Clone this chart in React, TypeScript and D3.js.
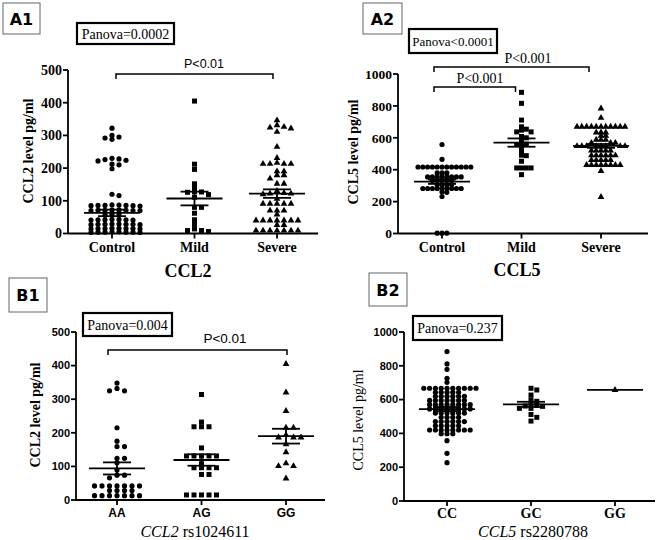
import React from "react";
import * as d3 from "d3";

// ---------------- DATA ----------------
const A1_CATEGORIES = ["Control", "Mild", "Severe"];
const A1_CONTROL = [322, 300, 295, 292, 288, 230, 228, 226, 224, 222, 212, 210, 198, 120, 116,
  88, 87, 86, 86, 85, 85, 84, 86,
  72, 71, 71, 70, 70, 72, 71, 70,
  58, 56, 57,
  43, 42, 42, 41, 43, 42, 41,
  28, 28, 27, 29, 28, 27, 28, 29,
  15, 15, 14, 16, 15, 14, 15, 16,
  4, 4, 3, 5, 4, 3, 4, 5];
const A1_MILD = [405, 212, 196, 152, 139, 128, 127, 126, 119, 111, 80, 80, 62, 42, 28, 14, 9, 9, 6];
const A1_SEVERE = [346, 331, 326, 324, 321, 311, 265, 231, 216, 213, 213, 213, 213, 190, 190, 178, 178, 168,
  152, 152, 130, 124, 122, 122, 120, 106, 91, 91, 91, 91, 91, 70, 70, 70, 58,
  40, 40, 40, 40, 40, 40, 40, 26, 26, 9, 9, 9, 9, 9, 9, 9];
const A1_MEANS = [63, 107, 122];
const A1_SEMS = [10, 21, 13];
const A1_TICKS = [0, 100, 200, 300, 400, 500];

const A2_CATEGORIES = ["Control", "Mild", "Severe"];
const A2_CONTROL = [558, 465,
  417, 417, 417, 417, 417, 417, 417, 417, 417, 417, 417, 417,
  380, 380, 380,
  355, 355, 355, 355, 355, 355, 355, 355,
  332, 332, 332, 332, 332,
  305, 305, 305, 305,
  282, 282, 282, 282, 282, 282, 282, 282, 282,
  260, 258, 232, 2, 2, 2];
const A2_MILD = [885, 816, 711, 669, 654, 648, 637, 637, 608, 600, 585, 562, 560, 558, 540, 516, 491, 488,
  453, 411, 411, 411, 411, 369];
const A2_SEVERE = [784, 725,
  669, 669, 669, 669, 669, 669, 669, 669, 669, 669, 669,
  633, 633, 633, 612, 612, 588, 588, 588, 568, 568, 568,
  548, 548, 548, 548, 548, 548, 548, 548,
  520, 520, 520, 520, 520,
  490, 490, 490, 490, 490, 490,
  460, 460, 460, 460, 460,
  430, 430, 430, 430, 430, 430, 430, 430,
  392, 229];
const A2_MEANS = [325, 570, 549];
const A2_SEMS = [14, 26, 12];
const A2_TICKS = [0, 200, 400, 600, 800, 1000];

const B1_CATEGORIES = ["AA", "AG", "GG"];
const B1_AA = [348, 332, 325, 325, 215, 175, 159, 159, 124, 124, 111, 89, 74, 74, 66,
  42, 42, 42, 42, 42, 42, 42, 28, 28, 28, 28, 13, 13, 13, 13, 13, 13, 13];
const B1_AG = [314, 232, 218, 218, 218, 155, 131, 131, 131, 131, 131, 108, 96, 96, 96, 96, 76, 76,
  15, 15, 15, 15, 15];
const B1_GG = [405, 320, 265, 215, 215, 193, 186, 186, 186, 166, 142, 109, 101, 101, 64];
const B1_MEANS = [94, 119, 190];
const B1_SEMS = [18, 17, 22];
const B1_TICKS = [0, 100, 200, 300, 400, 500];

const B2_CATEGORIES = ["CC", "GC", "GG"];
const B2_CC = [884, 811, 779, 726, 702,
  667, 667, 667, 667, 667, 667, 667, 667, 667, 667,
  643, 643, 643, 643, 643,
  620, 620, 620, 620, 620, 620,
  595, 595, 595, 595, 595, 595, 595,
  570, 570, 570, 570, 570, 570, 570, 570,
  545, 545, 545, 545, 545, 545, 545, 545,
  520, 520, 520, 520, 520, 520,
  495, 495, 495, 495,
  470, 470, 470, 470, 470, 470,
  445, 445, 445, 445, 445,
  420, 420, 420, 420, 420, 420, 420, 420,
  398, 398, 398, 357, 282, 227];
const B2_GC = [667, 657, 627, 598, 590, 570, 565, 562, 560, 548, 548, 512, 495, 473];
const B2_GG = [657];
const B2_MEANS = [544, 572, 657];
const B2_SEMS = [12, 15, 0];
const B2_TICKS = [0, 200, 400, 600, 800, 1000];

// ---------------- STYLE ----------------
const SERIF = "'Liberation Serif', 'Times New Roman', serif";
const SANS = "'Liberation Sans', Arial, sans-serif";
const LABEL = "'DejaVu Sans', Verdana, sans-serif";
const SHAPES = [d3.symbolCircle, d3.symbolSquare, d3.symbolTriangle];
const SHAPE_SIZE = [21, 25, 20];

type Swarm = { x: number; y: number }[];

function swarm(values: number[], y: (v: number) => number, cx: number, s: number, sy: number): Swarm {
  const pts = values.map((v) => y(v)).sort((a, b) => a - b);
  const placed: { off: number; y: number }[] = [];
  const h = s / 2;
  for (const py of pts) {
    for (let k = 0; k < 60; k++) {
      const off = k === 0 ? 0 : (k % 2 === 1 ? 1 : -1) * Math.ceil(k / 2) * h;
      const hit = placed.some((q) => Math.abs(q.y - py) < sy && Math.abs(q.off - off) < s - 0.01);
      if (!hit) {
        placed.push({ off, y: py });
        break;
      }
    }
  }
  return placed.map((p) => ({ x: cx + p.off, y: p.y }));
}

function Panel(props: any) {
  const c = props.cfg;
  const y = d3.scaleLinear().domain([0, c.ticks[c.ticks.length - 1]]).range([c.yBot, c.yTop]);
  const x = d3.scalePoint().domain(c.cats).range(c.catRange);
  const sw = 1.8;
  return (
    <g>
      <rect x={c.label.x} y={c.label.y} width={c.label.w} height={c.label.h} fill="#fff" stroke="#666" strokeWidth={1} />
      <text x={c.label.x + c.label.w / 2} y={c.label.y + c.label.h / 2 + 6} textAnchor="middle" fontFamily={LABEL} fontWeight="bold" fontSize={16}>{c.label.text}</text>
      <rect x={c.panova.x} y={c.panova.y} width={c.panova.w} height={c.panova.h} fill="#fff" stroke="#000" strokeWidth={2.2} />
      <text x={c.panova.x + c.panova.w / 2} y={c.panova.y + c.panova.h / 2 + 5} textAnchor="middle" fontFamily={SERIF} fontSize={c.panova.fs}>{c.panova.text}</text>
      {c.brackets.map((b: any, i: number) => {
        const x1 = (x(b.from) as number) + b.d1;
        const x2 = (x(b.to) as number) + b.d2;
        return (
          <g key={i}>
            <path d={`M${x1},${b.y + 5}V${b.y}H${x2}V${b.y + 5}`} fill="none" stroke="#000" strokeWidth={1.5} />
            <text x={b.tx} y={b.ty} textAnchor="middle" fontFamily={b.font} fontSize={b.fs}>{b.text}</text>
          </g>
        );
      })}
      <line x1={c.x0} x2={c.x0} y1={c.yTop} y2={c.yBot} stroke="#000" strokeWidth={sw} />
      <line x1={c.x0} x2={c.xEnd} y1={c.yBot} y2={c.yBot} stroke="#000" strokeWidth={sw} />
      {c.ticks.map((t: number) => (
        <g key={t}>
          <line x1={c.x0 - 5} x2={c.x0} y1={y(t)} y2={y(t)} stroke="#000" strokeWidth={sw} />
          <text x={c.x0 - 6} y={y(t) + c.tickFs * 0.35} textAnchor="end" fontFamily={c.tickFont} fontWeight="bold" fontSize={c.tickFs}>{t}</text>
        </g>
      ))}
      {c.cats.map((k: string) => (
        <g key={k}>
          <line x1={x(k)} x2={x(k)} y1={c.yBot} y2={c.yBot + 5} stroke="#000" strokeWidth={sw} />
          <text x={x(k)} y={c.catY} textAnchor="middle" fontFamily={c.catFont} fontWeight="bold" fontSize={c.catFs}>{k}</text>
        </g>
      ))}
      <text x={c.xTitle.x} y={c.xTitle.y} textAnchor="middle" fontFamily={SERIF} fontSize={c.xTitle.fs} fontWeight={c.xTitle.bold ? "bold" : "normal"}>
        {c.xTitle.parts.map((p: any, i: number) => (
          <tspan key={i} fontStyle={p.italic ? "italic" : "normal"}>{p.t}</tspan>
        ))}
      </text>
      <text transform={`translate(${c.yTitle.x},${c.yTitle.y}) rotate(-90)`} textAnchor="middle" fontFamily={SERIF} fontSize={c.yTitle.fs} fontWeight={c.yTitle.bold ? "bold" : "normal"} dy="0.35em">{c.yTitle.text}</text>
      {c.groups.map((vals: number[], gi: number) => {
        const pts = swarm(vals, y, x(c.cats[gi]) as number, c.spacing, c.rowH);
        const sym = d3.symbol().type(SHAPES[gi]).size(SHAPE_SIZE[gi])();
        return (
          <g key={gi}>
            {pts.map((p, i) => (
              <path key={i} d={sym as string} transform={`translate(${p.x},${p.y})`} fill="#000" />
            ))}
          </g>
        );
      })}
      {c.means.map((m: number, gi: number) => {
        const cx = x(c.cats[gi]) as number;
        const s = c.sems[gi];
        return (
          <g key={gi} stroke="#000" strokeWidth={sw}>
            <line x1={cx - 28} x2={cx + 28} y1={y(m)} y2={y(m)} />
            {s > 0 && (
              <g>
                <line x1={cx} x2={cx} y1={y(m - s)} y2={y(m + s)} />
                <line x1={cx - 14} x2={cx + 14} y1={y(m - s)} y2={y(m - s)} />
                <line x1={cx - 14} x2={cx + 14} y1={y(m + s)} y2={y(m + s)} />
              </g>
            )}
          </g>
        );
      })}
    </g>
  );
}

const PANELS = [
  {
    label: { text: "A1", x: 3, y: 3, w: 37, h: 31 },
    panova: { text: "Panova=0.0002", x: 77, y: 23, w: 97, h: 21, fs: 14 },
    brackets: [{ from: "Control", to: "Severe", d1: 4, d2: -4, y: 74, text: "P<0.01", tx: 204, ty: 68, font: SANS, fs: 12.5 }],
    x0: 68, xEnd: 318, yTop: 70, yBot: 233.5, ticks: A1_TICKS,
    cats: A1_CATEGORIES, catRange: [112, 277], groups: [A1_CONTROL, A1_MILD, A1_SEVERE],
    means: A1_MEANS, sems: A1_SEMS,
    tickFont: SERIF, tickFs: 14, catFont: SERIF, catFs: 14, catY: 252,
    xTitle: { parts: [{ t: "CCL2" }], x: 188, y: 277, fs: 18, bold: true },
    yTitle: { text: "CCL2 level pg/ml", x: 28, y: 151, fs: 14, bold: true },
    spacing: 7, rowH: 3.4,
  },
  {
    label: { text: "A2", x: 363, y: 3, w: 39, h: 31 },
    panova: { text: "Panova<0.0001", x: 409, y: 29, w: 88, h: 24, fs: 13 },
    brackets: [
      { from: "Control", to: "Mild", d1: -8, d2: -6, y: 87, text: "P<0.001", tx: 480, ty: 83, font: SERIF, fs: 14 },
      { from: "Control", to: "Severe", d1: -8, d2: -12, y: 67, text: "P<0.001", tx: 528, ty: 63, font: SERIF, fs: 14 },
    ],
    x0: 398, xEnd: 648, yTop: 74, yBot: 233.5, ticks: A2_TICKS,
    cats: A2_CATEGORIES, catRange: [442, 601], groups: [A2_CONTROL, A2_MILD, A2_SEVERE],
    means: A2_MEANS, sems: A2_SEMS,
    tickFont: SERIF, tickFs: 13.5, catFont: SERIF, catFs: 14, catY: 252,
    xTitle: { parts: [{ t: "CCL5" }], x: 517, y: 276, fs: 18, bold: true },
    yTitle: { text: "CCL5 level pg/ml", x: 353, y: 152, fs: 14, bold: true },
    spacing: 4.8, rowH: 3.2,
  },
  {
    label: { text: "B1", x: 9, y: 278, w: 38, h: 34 },
    panova: { text: "Panova=0.004", x: 83, y: 313, w: 89, h: 23, fs: 14 },
    brackets: [{ from: "AA", to: "GG", d1: -9, d2: 1, y: 350, text: "P<0.01", tx: 225, ty: 343, font: SANS, fs: 13.5 }],
    x0: 76, xEnd: 325, yTop: 332, yBot: 500, ticks: B1_TICKS,
    cats: B1_CATEGORIES, catRange: [117, 286], groups: [B1_AA, B1_AG, B1_GG],
    means: B1_MEANS, sems: B1_SEMS,
    tickFont: SANS, tickFs: 11, catFont: SANS, catFs: 12, catY: 517,
    xTitle: { parts: [{ t: "CCL2", italic: true }, { t: " rs1024611" }], x: 195, y: 537, fs: 16, bold: false },
    yTitle: { text: "CCL2 level pg/ml", x: 35, y: 415, fs: 14, bold: true },
    spacing: 7.5, rowH: 3.4,
  },
  {
    label: { text: "B2", x: 369, y: 273, w: 38, h: 33 },
    panova: { text: "Panova=0.237", x: 413, y: 316, w: 89, h: 24, fs: 14 },
    brackets: [],
    x0: 404, xEnd: 655, yTop: 332, yBot: 501, ticks: B2_TICKS,
    cats: B2_CATEGORIES, catRange: [447, 615], groups: [B2_CC, B2_GC, B2_GG],
    means: B2_MEANS, sems: B2_SEMS,
    tickFont: SANS, tickFs: 11, catFont: SERIF, catFs: 14, catY: 518,
    xTitle: { parts: [{ t: "CCL5", italic: true }, { t: " rs2280788" }], x: 533, y: 537, fs: 16, bold: false },
    yTitle: { text: "CCL5 level pg/ml", x: 358, y: 420, fs: 14, bold: false },
    spacing: 5.8, rowH: 3.4,
  },
];

export default function App() {
  return (
    <svg width={660} height={540} style={{ position: "absolute", left: 0, top: 0, background: "#fff" }}>
      <rect width={660} height={540} fill="#fff" />
      {PANELS.map((p, i) => (
        <Panel key={i} cfg={p} />
      ))}
    </svg>
  );
}
